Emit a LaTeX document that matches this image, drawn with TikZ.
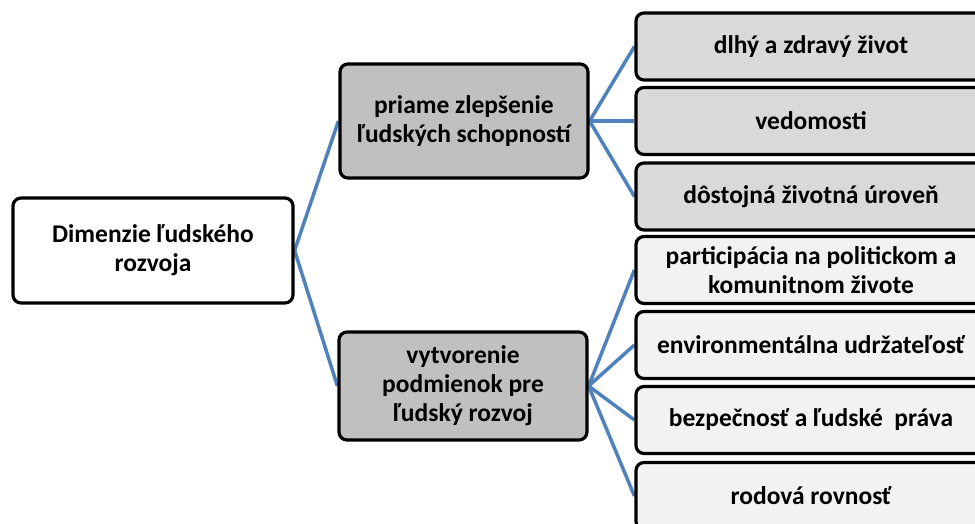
\documentclass[tikz,border=0pt]{standalone}
\usepackage{fontspec}
\setmainfont{Carlito}
\usetikzlibrary{backgrounds}
\definecolor{conn}{HTML}{4F81BD}
\definecolor{midfill}{HTML}{C0C0C0}
\definecolor{topfill}{HTML}{D9D9D9}
\definecolor{botfill}{HTML}{F2F2F2}
\tikzset{
  box/.style={draw=black, line width=3.2pt, rounded corners=8pt, align=center,
    font=\fontsize{25.5}{29}\selectfont\bfseries, inner sep=0pt},
  conline/.style={draw=conn, line width=3.5pt},
}
\begin{document}
\begin{tikzpicture}[x=1pt,y=-1pt]
\useasboundingbox (0,0) rectangle (975,524);
\clip (0,0) rectangle (975,524);
% nodes
\node[box, fill=white, minimum width=280, minimum height=105] (root) at (153,250.5) {Dimenzie ľudského\\rozvoja};
\node[box, fill=midfill, minimum width=248, minimum height=114] (m1) at (464,121) {priame zlepšenie\\ľudských schopností};
\node[box, fill=midfill, minimum width=248, minimum height=108] (m2) at (463,386) {vytvorenie\\podmienok pre\\ľudský rozvoj};
\foreach \n/\y/\c/\t in {r1/46.5/topfill/{dlhý a zdravý život}, r2/121/topfill/{vedomosti}, r3/196.5/topfill/{dôstojná životná úroveň},
  r4/270/botfill/{participácia na politickom a\\komunitnom živote}, r5/345/botfill/{environmentálna udržateľosť},
  r6/420/botfill/{bezpečnosť a ľudské\ \ práva}, r7/496/botfill/{rodová rovnosť}}
  \node[box, fill=\c, minimum width=350, minimum height=67] (\n) at (811,\y) {\t};
% connectors
\begin{scope}[on background layer]
\draw[conline] (root.east) -- (m1.west);
\draw[conline] (root.east) -- (m2.west);
\foreach \r in {r1,r2,r3} \draw[conline] (m1.east) -- (\r.west);
\foreach \r in {r4,r5,r6,r7} \draw[conline] (m2.east) -- (\r.west);
\end{scope}
\end{tikzpicture}
\end{document}
